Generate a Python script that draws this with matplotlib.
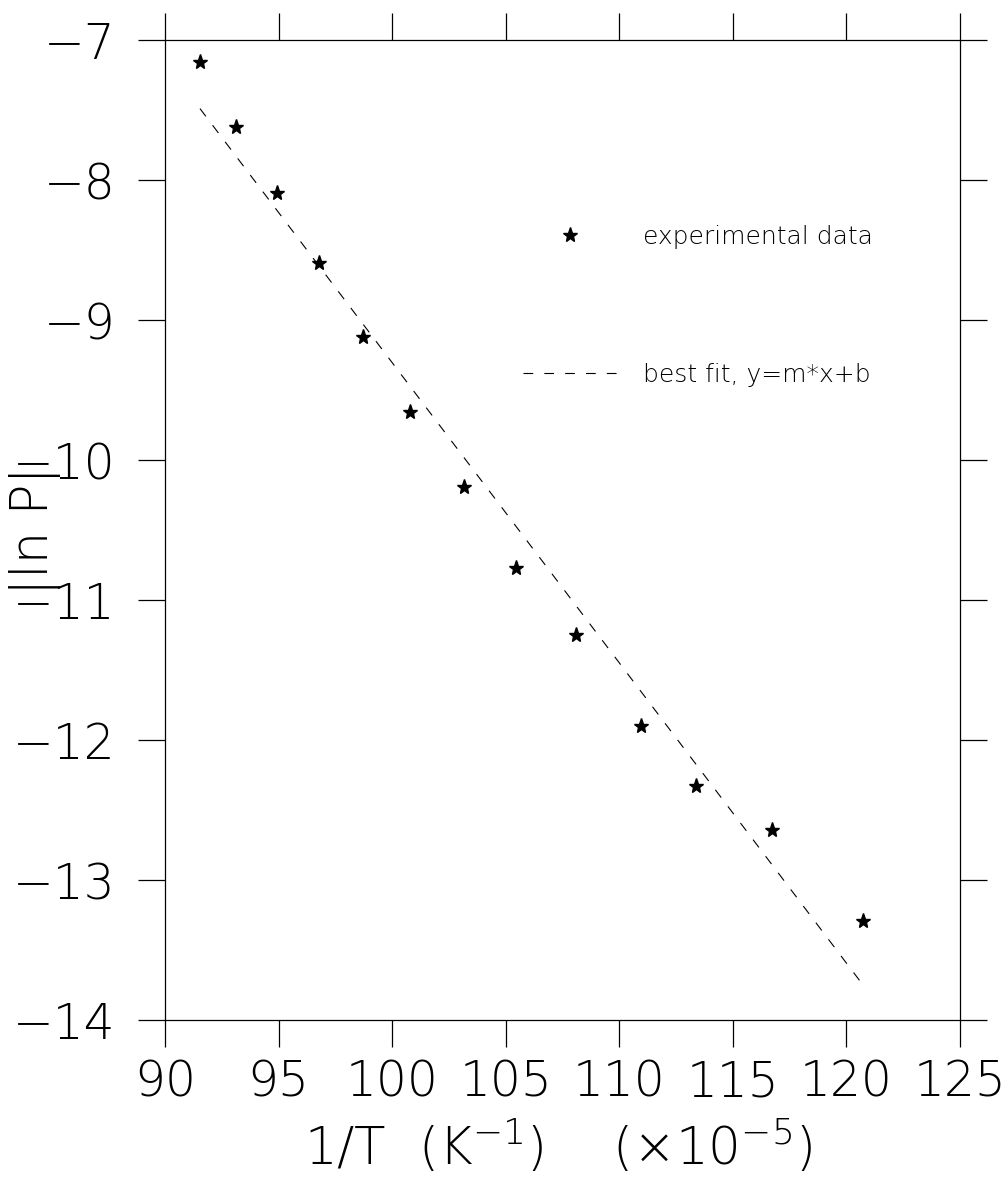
import matplotlib
matplotlib.use("Agg")
import matplotlib.pyplot as plt
from matplotlib import font_manager as fm

# ---- data ----
inv_T = [91.54, 93.13, 94.92, 96.79, 98.73, 100.79, 103.18, 105.45, 108.10,
         110.94, 113.38, 116.71, 120.73]
ln_P = [-7.155, -7.62, -8.095, -8.59, -9.12, -9.655, -10.195, -10.77, -11.25,
        -11.90, -12.33, -12.64, -13.29]
fit_x = [91.54, 120.73]
fit_y = [-7.49, -13.75]
x_ticks = [90, 95, 100, 105, 110, 115, 120, 125]
y_ticks = [-14, -13, -12, -11, -10, -9, -8, -7]

# ---- font: prefer a light weight ----
family = "DejaVu Sans"
weight = "normal"
for fam in ["DejaVu Sans", "Roboto", "Lato", "Open Sans", "Noto Sans", "Inter"]:
    ws = sorted(f.weight for f in fm.fontManager.ttflist
                if f.name == fam and isinstance(f.weight, int) and f.weight < 400
                and f.style == "normal")
    if ws:
        family, weight = fam, ws[0]
        break
plt.rcParams["font.family"] = [family, "DejaVu Sans"]
plt.rcParams["font.weight"] = weight
plt.rcParams["axes.labelweight"] = weight
plt.rcParams["mathtext.default"] = "regular"
plt.rcParams["lines.scale_dashes"] = False

fig = plt.figure(figsize=(10.05, 11.8), dpi=100)
ax = fig.add_axes([165 / 1005, 1 - 1020 / 1180, 795 / 1005, 980 / 1180])

ax.plot(inv_T, ln_P, linestyle="none", marker="*", markersize=11, color="black",
        label="experimental data")
ax.plot(fit_x, fit_y, color="black", linewidth=0.8, dashes=(7, 8),
        label="best fit, y=m*x+b")

ax.set_xlim(90, 125)
ax.set_ylim(-14, -7)
ax.set_xticks(x_ticks)
ax.set_yticks(y_ticks)
ax.set_xticklabels([str(v) for v in x_ticks])
ax.set_yticklabels(["\u2212" + str(-v) for v in y_ticks])

for s in ax.spines.values():
    s.set_linewidth(0.9)
ax.tick_params(direction="out", length=19.5, width=0.9, top=True, right=True,
               labelsize=35, color="black")
ax.tick_params(axis="y", pad=16)
ax.tick_params(axis="x", pad=8)

ax.set_xlabel("1/T  (K$^{-1}$)    (\u00d710$^{-5}$)", fontsize=37)
ax.xaxis.set_label_coords(0.494, -0.148)
ax.xaxis.label.set_va("baseline")
ax.set_ylabel("|ln P|", fontsize=37, va="center", ha="center")
ax.yaxis.set_label_coords(-0.1635, 0.499)

leg = ax.legend(loc="upper left", bbox_to_anchor=(0.4503, 0.811), frameon=False,
                fontsize=18, handlelength=3.8, handletextpad=1.0,
                labelspacing=4.55, borderpad=0, borderaxespad=0)

fig.savefig("out.png", dpi=100)
